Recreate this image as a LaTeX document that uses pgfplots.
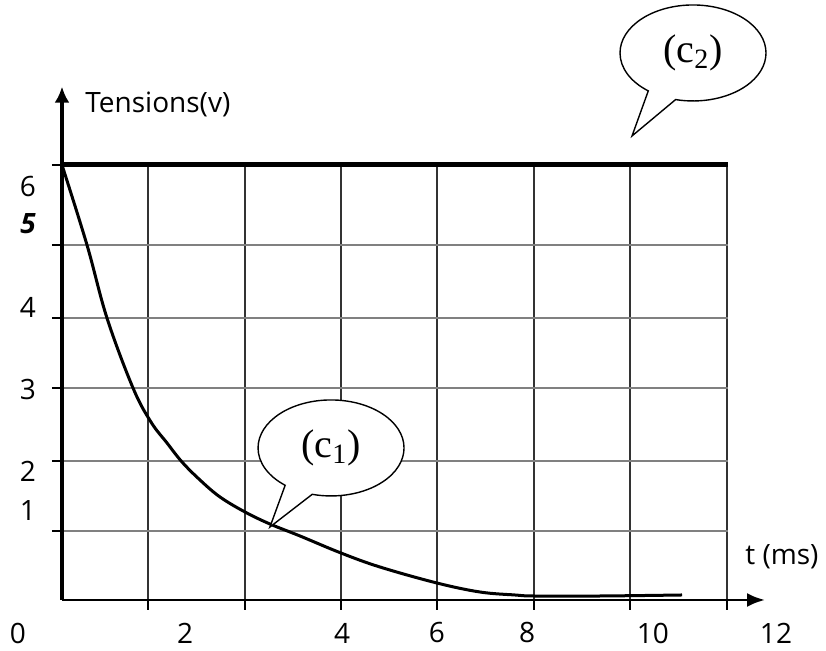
\documentclass[border=0pt]{standalone}
\usepackage{fontspec}
\setmainfont{Open Sans}
\newfontfamily\timesfont{Liberation Serif}
\usepackage{pgfplots}
\pgfplotsset{compat=1.18}
\usetikzlibrary{arrows.meta,shapes.callouts}

\begin{document}
\fontsize{14}{16}\selectfont
\begin{tikzpicture}
\path[use as bounding box] (0,0) rectangle (413pt,325.5pt);
\begin{axis}[
  at={(31pt,25.5pt)}, anchor=south west,
  x=48.25pt, y=36.25pt,
  xmin=0, xmax=6.9, ymin=0, ymax=6,
  axis lines=left,
  axis line style={draw=none},
  clip=false,
  grid=major,
  x grid style={black!80, line width=0.9pt},
  y grid style={black!50, line width=0.9pt},
  xtick={0.891,1.896,2.891,3.886,4.891,5.886,6.891},
  ytick={0.952,1.917,2.924,3.890,4.897,6},
  xticklabels={}, yticklabels={},
  tick align=outside,
  major tick length=5pt,
  tick style={black, line width=1pt},
  extra x ticks={1.275,2.902,3.886,4.819,6.124},
  extra x tick labels={2,4,6,8,10},
  extra y ticks={5.71,5.19,4.03,2.90,1.77,1.24},
  extra y tick labels={6,{\bfseries\itshape 5},4,3,2,1},
  extra tick style={grid=none, major tick length=0pt},
  xticklabel style={anchor=center, yshift=-16.5pt, font=\fontsize{14}{16}\selectfont},
  yticklabel style={anchor=center, xshift=-17pt, font=\fontsize{14}{16}\selectfont},
]

% courbe (c1) : decharge du condensateur
\addplot[black, line width=1.5pt, smooth, tension=0.6] coordinates {
  (0,6.0) (0.259,4.897) (0.466,3.890) (0.736,2.924) (0.922,2.455)
  (1.088,2.166) (1.244,1.903) (1.430,1.655) (1.637,1.421) (1.896,1.214)
  (2.155,1.048) (2.466,0.883) (2.891,0.648) (3.295,0.455) (3.886,0.234)
  (4.332,0.110) (4.694,0.069) (4.891,0.055) (5.575,0.055) (6.425,0.069)
};

% courbe (c2) : tension constante
\addplot[black, line width=2.5pt] coordinates {(0,6) (6.9,6)};

% axes avec fleches
\draw[line width=1.4pt, -{Latex[length=9pt,width=7pt]}] (axis cs:0,0) -- (axis cs:7.285,0);
\draw[line width=2pt, -{Latex[length=8pt,width=7.5pt]}] (axis cs:0,0) -- (axis cs:0,7.08);

\node[anchor=base west, inner sep=0pt] at (axis cs:0.238,6.717) {Tensions(v)};
\node[anchor=base west, inner sep=0pt] at (axis cs:7.078,0.483) {t (ms)};
\node[yshift=-16.5pt] at (axis cs:-0.456,0) {0};
\node[yshift=-16.5pt] at (axis cs:7.399,0) {12};

% bulles
\node[ellipse callout, draw=black, line width=0.7pt, fill=white,
  minimum width=73pt, minimum height=48pt, inner sep=0pt,
  callout pointer arc=24, callout absolute pointer={(axis cs:5.907,6.40)},
  font=\timesfont\fontsize{20}{22}\selectfont]
  at (axis cs:6.539,7.545) {(c\textsubscript{2})};
\node[ellipse callout, draw=black, line width=0.7pt, fill=white,
  minimum width=73pt, minimum height=48pt, inner sep=0pt,
  callout pointer arc=24, callout absolute pointer={(axis cs:2.155,1.007)},
  font=\timesfont\fontsize{20}{22}\selectfont]
  at (axis cs:2.788,2.097) {(c\textsubscript{1})};
\end{axis}
\end{tikzpicture}
\end{document}
